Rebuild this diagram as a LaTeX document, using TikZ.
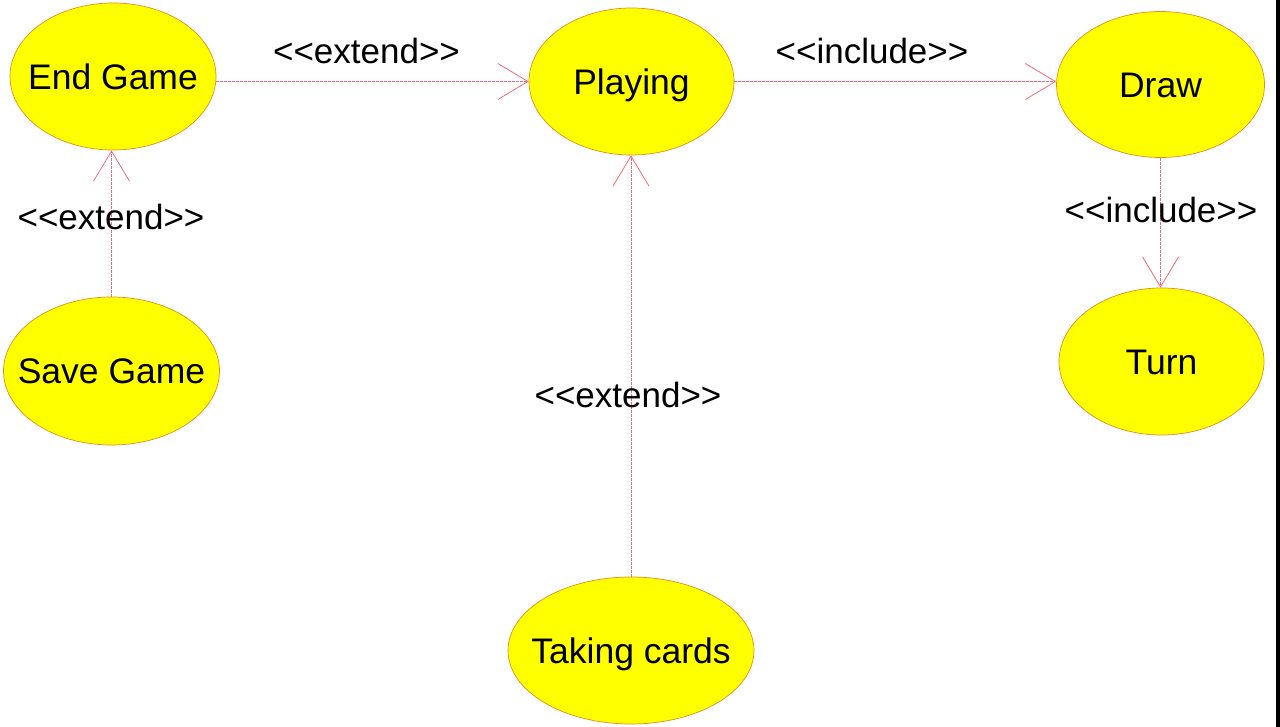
\documentclass[tikz,border=0pt]{standalone}
\usepackage{fontspec}
\setmainfont{Liberation Sans}
\usetikzlibrary{arrows.meta,shapes.geometric}
\definecolor{ucfill}{RGB}{255,255,0}
\definecolor{ucedge}{RGB}{225,140,40}
\definecolor{lnk}{RGB}{240,105,120}
\tikzset{
  x=1pt, y=-1pt,
  uc/.style={ellipse, fill=ucfill, draw=ucedge, line width=0.7pt, inner sep=0pt},
  uctext/.style={inner sep=0pt, text height=25.4pt, text depth=0pt, font=\fontsize{35.5}{42}\selectfont},
  lbl/.style={inner sep=0pt, anchor=base, font=\fontsize{35}{42}\selectfont},
  rel/.style={draw=lnk, line width=1pt, dash pattern=on 3pt off 1pt,
    -{Straight Barb[length=30pt, width=36pt, line width=0.8pt, sep=0pt]}}
}
\begin{document}
\begin{tikzpicture}
\fill[white] (0,0) rectangle (1280,727);
\useasboundingbox (0,0) rectangle (1280,727);
\fill[black] (1276,0) rectangle (1280,727);

% use cases
\node[uc, minimum width=206pt, minimum height=147pt] (end) at (113,76.5) {};
\node[uc, minimum width=205pt, minimum height=147pt] (play) at (631.5,81.5) {};
\node[uc, minimum width=208pt, minimum height=146pt] (draw) at (1160.5,84.5) {};
\node[uc, minimum width=216pt, minimum height=148pt] (save) at (111.5,371) {};
\node[uc, minimum width=205pt, minimum height=147pt] (turn) at (1161.5,361.5) {};
\node[uc, minimum width=246pt, minimum height=147pt] (take) at (631,650.5) {};

\node[uctext] (endT) at (end) {End Game};
\node[uctext] (playT) at (play) {Playing};
\node[uctext] (drawT) at (draw) {Draw};
\node[uctext] (saveT) at (save) {Save Game};
\node[uctext] (turnT) at (turn) {Turn};
\node[uctext] (takeT) at (take) {Taking cards};

% relations
\draw[rel] (play.west -| end.east) -- (play.west);
\draw[rel] (play.east) -- (play.east -| draw.west);
\draw[rel] (save.north) -- (save.north |- end.south);
\draw[rel] (take.north) -- (take.north |- play.south);
\draw[rel] (draw.south) -- (draw.south |- turn.north);

% labels
\node[lbl] (l1) at (366.5,64) {<{}<extend>{}>};
\node[lbl] (l2) at (872,64) {<{}<include>{}>};
\node[lbl] (l3) at (111,230) {<{}<extend>{}>};
\node[lbl] (l4) at (628,407) {<{}<extend>{}>};
\node[lbl] (l5) at (1161,223) {<{}<include>{}>};
\end{tikzpicture}
\end{document}
